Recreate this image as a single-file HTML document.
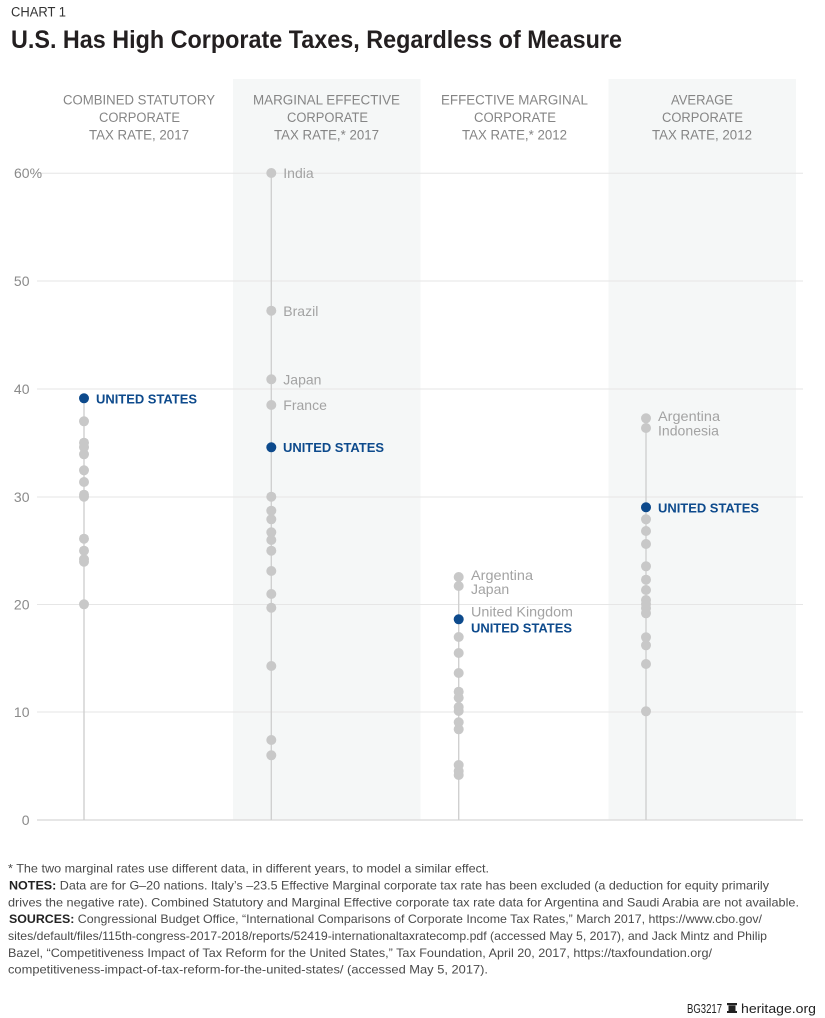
<!DOCTYPE html>
<html><head><meta charset="utf-8"><style>
html,body{margin:0;padding:0;background:#fff;}
svg{display:block;}
text{font-family:"Liberation Sans",sans-serif;}
</style></head><body>
<svg width="825" height="1018" viewBox="0 0 825 1018" xmlns="http://www.w3.org/2000/svg">
<rect width="825" height="1018" fill="#fff"/>
<!-- header -->
<text x="11" y="16.5" font-size="13.5" fill="#333" textLength="55" lengthAdjust="spacingAndGlyphs">CHART 1</text>
<text x="11" y="48" font-size="25" font-weight="bold" fill="#231f20" textLength="611" lengthAdjust="spacingAndGlyphs">U.S. Has High Corporate Taxes, Regardless of Measure</text>

<!-- bands -->
<rect x="233" y="79" width="187.5" height="741" fill="#f5f7f7"/>
<rect x="608.5" y="79" width="187.5" height="741" fill="#f5f7f7"/>

<!-- column headers -->
<g font-size="13.5" fill="#858585" text-anchor="middle">
<text x="139" y="104.5" textLength="152" lengthAdjust="spacingAndGlyphs">COMBINED STATUTORY</text>
<text x="139.5" y="122" textLength="81" lengthAdjust="spacingAndGlyphs">CORPORATE</text>
<text x="139" y="139.5" textLength="100" lengthAdjust="spacingAndGlyphs">TAX RATE, 2017</text>
<text x="326.5" y="104.5" textLength="147" lengthAdjust="spacingAndGlyphs">MARGINAL EFFECTIVE</text>
<text x="327.5" y="122" textLength="81" lengthAdjust="spacingAndGlyphs">CORPORATE</text>
<text x="326.5" y="139.5" textLength="105" lengthAdjust="spacingAndGlyphs">TAX RATE,* 2017</text>
<text x="514.5" y="104.5" textLength="147" lengthAdjust="spacingAndGlyphs">EFFECTIVE MARGINAL</text>
<text x="515" y="122" textLength="82" lengthAdjust="spacingAndGlyphs">CORPORATE</text>
<text x="514.5" y="139.5" textLength="105" lengthAdjust="spacingAndGlyphs">TAX RATE,* 2012</text>
<text x="702" y="104.5" textLength="62" lengthAdjust="spacingAndGlyphs">AVERAGE</text>
<text x="702.5" y="122" textLength="81" lengthAdjust="spacingAndGlyphs">CORPORATE</text>
<text x="702" y="139.5" textLength="100" lengthAdjust="spacingAndGlyphs">TAX RATE, 2012</text>
</g>

<!-- gridlines -->
<g stroke="#e6e6e6" stroke-width="1">
<line x1="37" y1="173.2" x2="803" y2="173.2"/>
<line x1="37" y1="281" x2="803" y2="281"/>
<line x1="37" y1="389" x2="803" y2="389"/>
<line x1="37" y1="497" x2="803" y2="497"/>
<line x1="37" y1="604.5" x2="803" y2="604.5"/>
<line x1="37" y1="712" x2="803" y2="712"/>
</g>
<line x1="37" y1="820" x2="803" y2="820" stroke="#dedede" stroke-width="1.5"/>

<!-- y labels -->
<g font-size="14" fill="#8a8a8a">
<text x="14" y="178">60%</text>
<text x="29.5" y="286" text-anchor="end">50</text>
<text x="29.5" y="394" text-anchor="end">40</text>
<text x="29.5" y="502" text-anchor="end">30</text>
<text x="29.5" y="609.5" text-anchor="end">20</text>
<text x="29.5" y="717" text-anchor="end">10</text>
<text x="29.5" y="825" text-anchor="end">0</text>
</g>

<!-- column stems -->
<g stroke="#d0d0d0" stroke-width="1.4">
<line x1="84" y1="398" x2="84" y2="820"/>
<line x1="271.3" y1="173" x2="271.3" y2="820"/>
<line x1="458.7" y1="577" x2="458.7" y2="820"/>
<line x1="646" y1="418" x2="646" y2="820"/>
</g>

<!-- dots col1 -->
<g fill="#c8c8c8">
<circle cx="84" cy="421.3" r="5"/>
<circle cx="84" cy="442.7" r="5"/>
<circle cx="84" cy="447.3" r="5"/>
<circle cx="84" cy="454.3" r="5"/>
<circle cx="84" cy="470.3" r="5"/>
<circle cx="84" cy="482" r="5"/>
<circle cx="84" cy="494.7" r="5"/>
<circle cx="84" cy="496.7" r="5"/>
<circle cx="84" cy="538.7" r="5"/>
<circle cx="84" cy="550.7" r="5"/>
<circle cx="84" cy="559.3" r="5"/>
<circle cx="84" cy="561.7" r="5"/>
<circle cx="84" cy="604.3" r="5"/>
<!-- col2 -->
<circle cx="271.3" cy="173" r="5"/>
<circle cx="271.3" cy="310.7" r="5"/>
<circle cx="271.3" cy="379.3" r="5"/>
<circle cx="271.3" cy="405" r="5"/>
<circle cx="271.3" cy="496.7" r="5"/>
<circle cx="271.3" cy="510.7" r="5"/>
<circle cx="271.3" cy="519.3" r="5"/>
<circle cx="271.3" cy="532.3" r="5"/>
<circle cx="271.3" cy="540" r="5"/>
<circle cx="271.3" cy="550.7" r="5"/>
<circle cx="271.3" cy="571" r="5"/>
<circle cx="271.3" cy="594" r="5"/>
<circle cx="271.3" cy="607.7" r="5"/>
<circle cx="271.3" cy="666" r="5"/>
<circle cx="271.3" cy="740" r="5"/>
<circle cx="271.3" cy="755.3" r="5"/>
<!-- col3 -->
<circle cx="458.7" cy="577" r="5"/>
<circle cx="458.7" cy="586" r="5"/>
<circle cx="458.7" cy="637" r="5"/>
<circle cx="458.7" cy="653" r="5"/>
<circle cx="458.7" cy="673" r="5"/>
<circle cx="458.7" cy="691.7" r="5"/>
<circle cx="458.7" cy="697.7" r="5"/>
<circle cx="458.7" cy="707" r="5"/>
<circle cx="458.7" cy="711" r="5"/>
<circle cx="458.7" cy="722.3" r="5"/>
<circle cx="458.7" cy="729.3" r="5"/>
<circle cx="458.7" cy="765" r="5"/>
<circle cx="458.7" cy="771" r="5"/>
<circle cx="458.7" cy="775" r="5"/>
<!-- col4 -->
<circle cx="646" cy="418.3" r="5"/>
<circle cx="646" cy="428" r="5"/>
<circle cx="646" cy="519.3" r="5"/>
<circle cx="646" cy="531" r="5"/>
<circle cx="646" cy="544" r="5"/>
<circle cx="646" cy="566.3" r="5"/>
<circle cx="646" cy="579.7" r="5"/>
<circle cx="646" cy="590" r="5"/>
<circle cx="646" cy="600" r="5"/>
<circle cx="646" cy="604" r="5"/>
<circle cx="646" cy="608.3" r="5"/>
<circle cx="646" cy="613.3" r="5"/>
<circle cx="646" cy="637.3" r="5"/>
<circle cx="646" cy="645.3" r="5"/>
<circle cx="646" cy="664" r="5"/>
<circle cx="646" cy="711.3" r="5"/>
</g>

<!-- US dots -->
<g fill="#0d4a8c">
<circle cx="84" cy="398.3" r="5"/>
<circle cx="271.3" cy="447.3" r="5"/>
<circle cx="458.7" cy="619.3" r="5"/>
<circle cx="646" cy="507.3" r="5"/>
</g>

<!-- gray labels -->
<g font-size="14" fill="#a3a3a3">
<text x="283.3" y="178">India</text>
<text x="283.3" y="316">Brazil</text>
<text x="283.3" y="384.5">Japan</text>
<text x="283.3" y="410">France</text>
<text x="471" y="580" textLength="62" lengthAdjust="spacingAndGlyphs">Argentina</text>
<text x="471" y="594">Japan</text>
<text x="471" y="616.5" textLength="102" lengthAdjust="spacingAndGlyphs">United Kingdom</text>
<text x="658" y="421" textLength="62" lengthAdjust="spacingAndGlyphs">Argentina</text>
<text x="658" y="435.5" textLength="61" lengthAdjust="spacingAndGlyphs">Indonesia</text>
</g>

<!-- US labels -->
<g font-size="13.2" font-weight="bold" fill="#0d4a8c">
<text x="96" y="403.5" textLength="101" lengthAdjust="spacingAndGlyphs">UNITED STATES</text>
<text x="283" y="452" textLength="101" lengthAdjust="spacingAndGlyphs">UNITED STATES</text>
<text x="471" y="632.5" textLength="101" lengthAdjust="spacingAndGlyphs">UNITED STATES</text>
<text x="658" y="512.5" textLength="101" lengthAdjust="spacingAndGlyphs">UNITED STATES</text>
</g>

<!-- footer -->
<g font-size="12" fill="#4a4a4a">
<text x="8" y="872.3" textLength="481" lengthAdjust="spacingAndGlyphs">* The two marginal rates use different data, in different years, to model a similar effect.</text>
<text x="9" y="889.3" textLength="760" lengthAdjust="spacingAndGlyphs"><tspan font-weight="bold" fill="#222">NOTES:</tspan> Data are for G–20 nations. Italy’s –23.5 Effective Marginal corporate tax rate has been excluded (a deduction for equity primarily</text>
<text x="8" y="906.3" textLength="791" lengthAdjust="spacingAndGlyphs">drives the negative rate). Combined Statutory and Marginal Effective corporate tax rate data for Argentina and Saudi Arabia are not available.</text>
<text x="9" y="923.2" textLength="753" lengthAdjust="spacingAndGlyphs"><tspan font-weight="bold" fill="#222">SOURCES:</tspan> Congressional Budget Office, “International Comparisons of Corporate Income Tax Rates,” March 2017, https://www.cbo.gov/</text>
<text x="8" y="940" textLength="759" lengthAdjust="spacingAndGlyphs">sites/default/files/115th-congress-2017-2018/reports/52419-internationaltaxratecomp.pdf (accessed May 5, 2017), and Jack Mintz and Philip</text>
<text x="8" y="956.8" textLength="704" lengthAdjust="spacingAndGlyphs">Bazel, “Competitiveness Impact of Tax Reform for the United States,” Tax Foundation, April 20, 2017, https://taxfoundation.org/</text>
<text x="8" y="973.5" textLength="480" lengthAdjust="spacingAndGlyphs">competitiveness-impact-of-tax-reform-for-the-united-states/ (accessed May 5, 2017).</text>
</g>

<!-- credit -->
<g font-size="13" fill="#222">
<text x="687" y="1013" textLength="35" lengthAdjust="spacingAndGlyphs">BG3217</text>
<text x="741" y="1013" textLength="75" lengthAdjust="spacingAndGlyphs">heritage.org</text>
</g>
<g fill="#222">
<rect x="727" y="1003" width="10" height="2.2"/>
<path d="M728.5 1005.5 H735.5 V1011 H737 V1013 H727 V1011 H728.5 Z"/>
</g>
</svg>
</body></html>
